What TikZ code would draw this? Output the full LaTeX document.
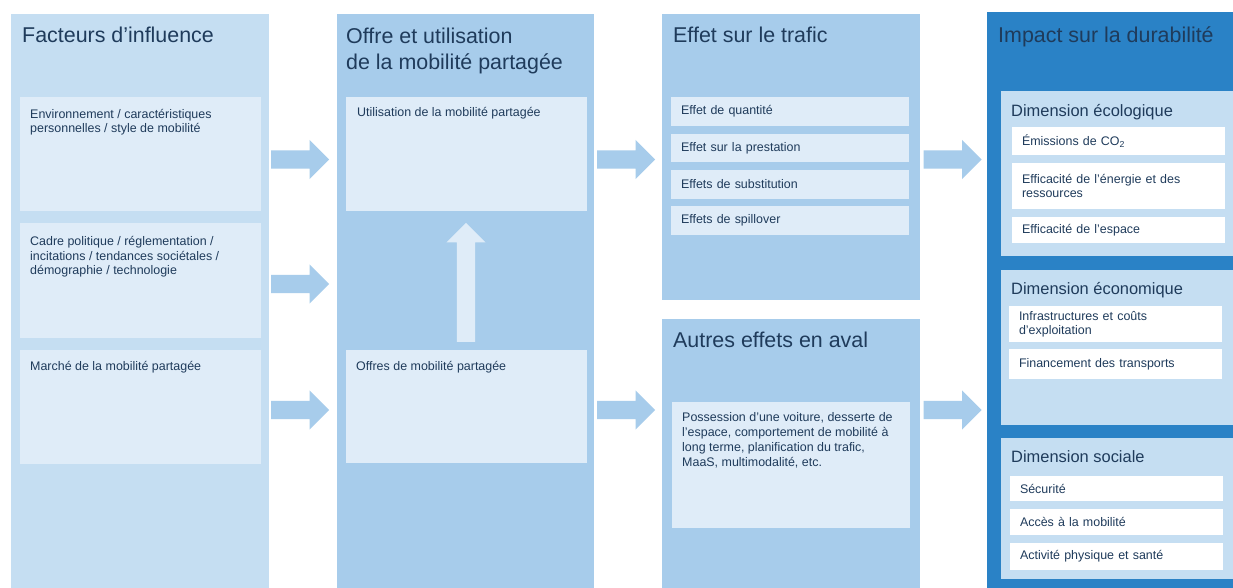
\documentclass[tikz,border=0pt]{standalone}
\usepackage{fontspec}
\setmainfont{Liberation Sans}
\usetikzlibrary{shapes.arrows,positioning}
\definecolor{colpale}{HTML}{C5DEF2}
\definecolor{colmid}{HTML}{A7CCEB}
\definecolor{colbox}{HTML}{DFECF8}
\definecolor{coldark}{HTML}{2A82C6}
\definecolor{coltext}{HTML}{1F3B5B}
\tikzset{
  panel/.style={anchor=north west, inner sep=0pt, outer sep=0pt},
  inbox/.style={panel, fill=colbox, minimum width=241bp},
  head/.style={anchor=base west, inner sep=0pt, text=coltext,
    font=\fontsize{21.5}{27}\selectfont, align=left},
  subhead/.style={anchor=base west, inner sep=0pt, text=coltext,
    font=\fontsize{16.5}{20}\selectfont},
  small/.style={anchor=base west, inner sep=0pt, text=coltext,
    font=\fontsize{12.5}{15}\selectfont, align=left},
  itembox/.style={anchor=north west, inner xsep=10bp, inner ysep=0pt,
    outer sep=0pt, text=coltext, font=\fontsize{12.5}{14.5}\selectfont,
    align=left},
  trafbox/.style={itembox, fill=colbox, text width=218bp},
  dimbox/.style={itembox, fill=white, text width=193bp},
  flow/.style={single arrow, fill=colmid, draw=none, inner sep=0pt,
    text height=18bp, text depth=0pt, minimum width=39bp,
    single arrow head extend=10.5bp, single arrow tip angle=90,
    minimum height=58bp, anchor=tail},
}
\begin{document}
\begin{tikzpicture}[x=1bp,y=-1bp]
  \useasboundingbox[fill=white] (0,0) rectangle (1233,588);

  \begin{scope}[shift={(11,14)}]
    \node[panel, fill=colpale, minimum width=258bp, minimum height=574bp] (fac) at (0,0) {};
    \node[head] (facH) at (11,29) {Facteurs d’influence};
    \node[inbox, minimum height=114bp] (env) at (9,83) {};
    \node[small] (envT) at (19,119) {Environnement / caractéristiques\\personnelles / style de mobilité};
    \node[inbox, minimum height=115bp] (cad) at (9,209) {};
    \node[small] (cadT) at (19,261) {Cadre politique / réglementation /\\incitations / tendances sociétales /\\démographie / technologie};
    \node[inbox, minimum height=114bp] (mar) at (9,336) {};
    \node[small] (marT) at (19,356) {Marché de la mobilité partagée};
  \end{scope}

  \begin{scope}[shift={(337,14)}]
    \node[panel, fill=colmid, minimum width=257bp, minimum height=574bp] (offre) at (0,0) {};
    \node[head] (offH) at (9,56) {Offre et utilisation\\de la mobilité partagée};
    \node[inbox, minimum height=114bp] (util) at (9,83) {};
    \node[small] (utilT) at (20,103) {Utilisation de la mobilité partagée};
    \node[inbox, minimum height=113bp] (offres) at (9,336) {};
    \node[small] (offT) at (19,356) {Offres de mobilité partagée};
    \node[flow, fill=colbox, minimum height=119bp, rotate=90] (up) at (129,328) {};
  \end{scope}

  \begin{scope}[shift={(662,14)}]
    \node[panel, fill=colmid, minimum width=258bp, minimum height=286bp] (trafic) at (0,0) {};
    \node[head] (trafH) at (11,29) {Effet sur le trafic};
    \node[trafbox, minimum height=29bp] (quant) at (9,83) {Effet de quantité};
    \node[trafbox, minimum height=28bp] (prest) at (9,120) {Effet sur la prestation};
    \node[trafbox, minimum height=29bp] (subst) at (9,156) {Effets de substitution};
    \node[trafbox, minimum height=29bp] (spill) at (9,192) {Effets de spillover};
    \node[panel, fill=colmid, minimum width=258bp, minimum height=269bp] (aval) at (0,305) {};
    \node[head] (avalH) at (11,334) {Autres effets en aval};
    \node[inbox, minimum width=238bp, minimum height=126bp] (autres) at (10,388) {};
    \node[small] (autT) at (20,452) {Possession d’une voiture, desserte de\\l’espace, comportement de mobilité à\\long terme, planification du trafic,\\MaaS, multimodalité, etc.};
  \end{scope}

  \begin{scope}[shift={(987,12)}]
    \node[panel, fill=coldark, minimum width=246bp, minimum height=576bp] (dur) at (0,0) {};
    \node[head] (durH) at (11,31) {Impact sur la durabilité};
    \node[panel, fill=colpale, minimum width=232bp, minimum height=165bp] (eco) at (14,79) {};
    \node[subhead] (ecoH) at (24,105) {Dimension écologique};
    \node[dimbox, minimum height=28bp] (co2) at (25,115) {Émissions de CO\textsubscript{2}};
    \node[dimbox, minimum height=46bp] (ener) at (25,151) {Efficacité de l’énergie et des\\ressources};
    \node[dimbox, minimum height=26bp] (esp) at (25,205) {Efficacité de l’espace};
    \node[panel, fill=colpale, minimum width=232bp, minimum height=155bp] (econ) at (14,258) {};
    \node[subhead] (econH) at (24,283) {Dimension économique};
    \node[dimbox, minimum height=36bp] (infra) at (22,294) {Infrastructures et coûts\\d’exploitation};
    \node[dimbox, minimum height=30bp] (fin) at (22,337) {Financement des transports};
    \node[panel, fill=colpale, minimum width=232bp, minimum height=141bp] (soc) at (14,426) {};
    \node[subhead] (socH) at (24,450) {Dimension sociale};
    \node[dimbox, minimum height=25bp] (secu) at (23,464) {Sécurité};
    \node[dimbox, minimum height=26bp] (acces) at (23,497) {Accès à la mobilité};
    \node[dimbox, minimum height=27bp] (sante) at (23,531) {Activité physique et santé};
  \end{scope}

  \node[flow] (a1) at (271,159.5) {};
  \node[flow] (a2) at (271,284) {};
  \node[flow] (a3) at (271,410) {};
  \node[flow] (a4) at (597,159.5) {};
  \node[flow] (a5) at (597,410) {};
  \node[flow] (a6) at (923.5,159.5) {};
  \node[flow] (a7) at (923.5,410) {};
\end{tikzpicture}
\end{document}
